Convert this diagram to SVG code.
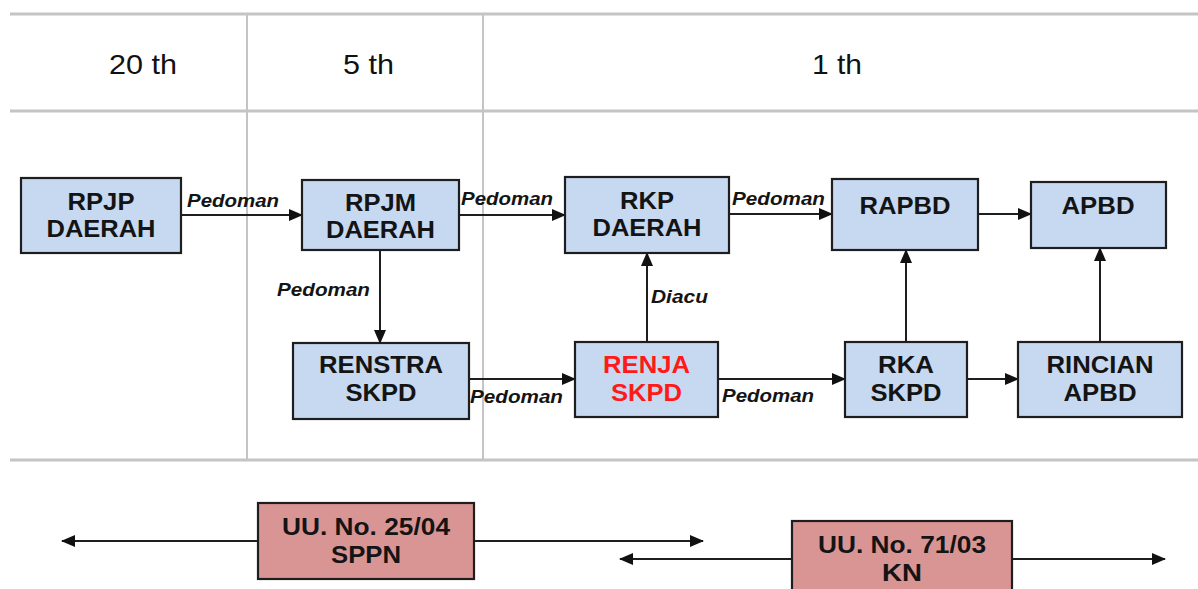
<svg xmlns="http://www.w3.org/2000/svg" width="1198" height="589" viewBox="0 0 1198 589">
<style>
.grid{stroke:#c4c4c4;stroke-width:3;fill:none}
.vgrid{stroke:#c4c4c4;stroke-width:2;fill:none}
.hdr{font-family:"Liberation Sans",Arial,sans-serif;font-size:28px;fill:#111;text-anchor:middle}
.box{fill:#c6d9f1;stroke:#1e1e1e;stroke-width:2.2}
.law{fill:#d99594;stroke:#1e1e1e;stroke-width:2.2}
.bt{font-family:"Liberation Sans",Arial,sans-serif;font-weight:bold;font-size:24px;fill:#141414;text-anchor:middle}
.lt{font-family:"Liberation Sans",Arial,sans-serif;font-weight:bold;font-size:23px;fill:#141414;text-anchor:middle}
.red{fill:#ff1a1a}
.lbl{font-family:"Liberation Sans",Arial,sans-serif;font-weight:bold;font-style:italic;font-size:18px;fill:#141414}
.con{stroke:#1e1e1e;stroke-width:2;fill:none}
</style>
<defs>
<marker id="ah" markerWidth="14" markerHeight="12" refX="13" refY="6" orient="auto" markerUnits="userSpaceOnUse">
<path d="M0,0 L14,6 L0,12 Z" fill="#111"/>
</marker>
<marker id="ahs" markerWidth="14" markerHeight="12" refX="1" refY="6" orient="auto" markerUnits="userSpaceOnUse">
<path d="M14,0 L0,6 L14,12 Z" fill="#111"/>
</marker>
</defs>
<rect width="1198" height="589" fill="#fff"/>
<g id="grid">
<line class="grid" x1="10" y1="14" x2="1198" y2="14"/>
<line class="grid" x1="10" y1="111" x2="1198" y2="111"/>
<line class="grid" x1="10" y1="460" x2="1198" y2="460"/>
<line class="vgrid" x1="247" y1="14" x2="247" y2="460"/>
<line class="vgrid" x1="483" y1="14" x2="483" y2="460"/>
<text class="hdr" x="143" y="74" textLength="68" lengthAdjust="spacingAndGlyphs">20 th</text>
<text class="hdr" x="368.5" y="74" textLength="51" lengthAdjust="spacingAndGlyphs">5 th</text>
<text class="hdr" x="837" y="74" textLength="50" lengthAdjust="spacingAndGlyphs">1 th</text>
</g>
<g id="connectors">
<line class="con" x1="182" y1="215" x2="302" y2="215" marker-end="url(#ah)"/>
<text class="lbl" x="187" y="207" textLength="92" lengthAdjust="spacingAndGlyphs">Pedoman</text>
<line class="con" x1="459" y1="215" x2="565" y2="215" marker-end="url(#ah)"/>
<text class="lbl" x="461" y="205" textLength="92" lengthAdjust="spacingAndGlyphs">Pedoman</text>
<line class="con" x1="729" y1="214" x2="832" y2="214" marker-end="url(#ah)"/>
<text class="lbl" x="732" y="205" textLength="93" lengthAdjust="spacingAndGlyphs">Pedoman</text>
<line class="con" x1="978" y1="214" x2="1031" y2="214" marker-end="url(#ah)"/>
<line class="con" x1="380" y1="249" x2="380" y2="343" marker-end="url(#ah)"/>
<text class="lbl" x="277" y="296" textLength="93" lengthAdjust="spacingAndGlyphs">Pedoman</text>
<line class="con" x1="469" y1="379" x2="575" y2="379" marker-end="url(#ah)"/>
<text class="lbl" x="470" y="403" textLength="93" lengthAdjust="spacingAndGlyphs">Pedoman</text>
<line class="con" x1="718" y1="379" x2="845" y2="379" marker-end="url(#ah)"/>
<text class="lbl" x="722" y="402" textLength="92" lengthAdjust="spacingAndGlyphs">Pedoman</text>
<line class="con" x1="967" y1="379" x2="1018" y2="379" marker-end="url(#ah)"/>
<line class="con" x1="647" y1="342" x2="647" y2="253" marker-end="url(#ah)"/>
<text class="lbl" x="651" y="303" textLength="57" lengthAdjust="spacingAndGlyphs">Diacu</text>
<line class="con" x1="906" y1="342" x2="906" y2="250" marker-end="url(#ah)"/>
<line class="con" x1="1100" y1="342" x2="1100" y2="248" marker-end="url(#ah)"/>
<line class="con" x1="62" y1="541" x2="703" y2="541" marker-start="url(#ahs)" marker-end="url(#ah)"/>
<line class="con" x1="620" y1="559" x2="1165" y2="559" marker-start="url(#ahs)" marker-end="url(#ah)"/>
</g>
<g id="rpjp">
<rect class="box" x="21" y="178" width="160" height="75"/>
<text class="bt" x="101" y="210" textLength="67" lengthAdjust="spacingAndGlyphs">RPJP</text>
<text class="bt" x="101" y="237" textLength="109" lengthAdjust="spacingAndGlyphs">DAERAH</text>
</g>
<g id="rpjm">
<rect class="box" x="302" y="180" width="157" height="70"/>
<text class="bt" x="380.5" y="211" textLength="71" lengthAdjust="spacingAndGlyphs">RPJM</text>
<text class="bt" x="380.5" y="238" textLength="109" lengthAdjust="spacingAndGlyphs">DAERAH</text>
</g>
<g id="rkp">
<rect class="box" x="565" y="177" width="164" height="76"/>
<text class="bt" x="647" y="209" textLength="54" lengthAdjust="spacingAndGlyphs">RKP</text>
<text class="bt" x="647" y="236" textLength="109" lengthAdjust="spacingAndGlyphs">DAERAH</text>
</g>
<g id="rapbd">
<rect class="box" x="832" y="179" width="146" height="71"/>
<text class="bt" x="905" y="214" textLength="91" lengthAdjust="spacingAndGlyphs">RAPBD</text>
</g>
<g id="apbd">
<rect class="box" x="1031" y="182" width="135" height="66"/>
<text class="bt" x="1098" y="214" textLength="73" lengthAdjust="spacingAndGlyphs">APBD</text>
</g>
<g id="renstra">
<rect class="box" x="293" y="343" width="176" height="76"/>
<text class="bt" x="381" y="373" textLength="124" lengthAdjust="spacingAndGlyphs">RENSTRA</text>
<text class="bt" x="381" y="401" textLength="71" lengthAdjust="spacingAndGlyphs">SKPD</text>
</g>
<g id="renja">
<rect class="box" x="575" y="342" width="143" height="75"/>
<text class="bt red" x="646.5" y="373" textLength="87" lengthAdjust="spacingAndGlyphs">RENJA</text>
<text class="bt red" x="646.5" y="401" textLength="71" lengthAdjust="spacingAndGlyphs">SKPD</text>
</g>
<g id="rka">
<rect class="box" x="845" y="342" width="122" height="75"/>
<text class="bt" x="906" y="373" textLength="56" lengthAdjust="spacingAndGlyphs">RKA</text>
<text class="bt" x="906" y="401" textLength="71" lengthAdjust="spacingAndGlyphs">SKPD</text>
</g>
<g id="rincian">
<rect class="box" x="1018" y="342" width="164" height="75"/>
<text class="bt" x="1100" y="373" textLength="107" lengthAdjust="spacingAndGlyphs">RINCIAN</text>
<text class="bt" x="1100" y="401" textLength="73" lengthAdjust="spacingAndGlyphs">APBD</text>
</g>
<g id="uu25">
<rect class="law" x="258" y="503" width="216" height="76"/>
<text class="lt" x="366" y="535" textLength="168" lengthAdjust="spacingAndGlyphs">UU. No. 25/04</text>
<text class="lt" x="366" y="563" textLength="70" lengthAdjust="spacingAndGlyphs">SPPN</text>
</g>
<g id="uu71">
<rect class="law" x="792" y="521" width="220" height="80"/>
<text class="lt" x="902" y="553" textLength="168" lengthAdjust="spacingAndGlyphs">UU. No. 71/03</text>
<text class="lt" x="902" y="581" textLength="40" lengthAdjust="spacingAndGlyphs">KN</text>
</g>
</svg>
